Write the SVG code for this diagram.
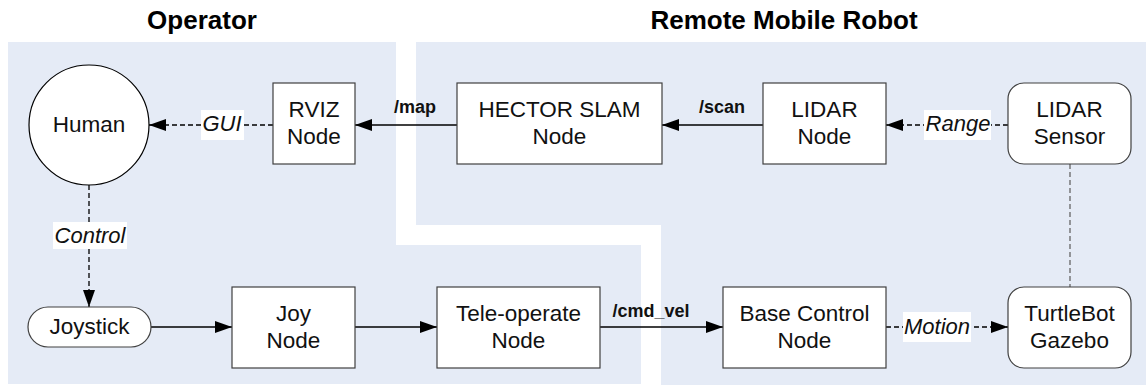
<svg xmlns="http://www.w3.org/2000/svg" width="1146" height="385" viewBox="0 0 1146 385">
<style>
.region{fill:#E5EBF6;stroke:none}
.title{font-family:"Liberation Sans",Arial,sans-serif;font-size:26px;font-weight:bold;fill:#000;text-anchor:middle}
.box{fill:#fff;stroke:#404040;stroke-width:1.2}
.nt{font-family:"Liberation Sans",Arial,sans-serif;font-size:22.5px;fill:#111;text-anchor:middle}
.lt{font-family:"Liberation Sans",Arial,sans-serif;font-size:22px;font-style:italic;fill:#111;text-anchor:middle}
.bt{font-family:"Liberation Sans",Arial,sans-serif;font-size:18px;font-weight:bold;fill:#111;text-anchor:middle}
.solid{stroke:#000;stroke-width:1.3;fill:none}
.dash{stroke:#000;stroke-width:1.3;fill:none;stroke-dasharray:5,3}
.gdash{stroke:#666;stroke-width:1.3;fill:none;stroke-dasharray:5,3}
.lbg{fill:#fff}
</style>
<defs>
<marker id="arr" markerUnits="userSpaceOnUse" markerWidth="18" markerHeight="13" refX="17" refY="6" orient="auto">
<path d="M0,0 L17,6 L0,12 z" fill="#000"/>
</marker>
</defs>
<g id="regions">
<path class="region" d="M8,42 H396 V245 H641 V384 H8 Z"/>
<path class="region" d="M416,42 H1146 V385 H661 V225 H416 Z"/>
</g>
<g id="titles">
<text class="title" x="202" y="29">Operator</text>
<text class="title" x="784" y="29">Remote Mobile Robot</text>
</g>
<g id="connectors">
<line class="solid" x1="457" y1="125" x2="355" y2="125" marker-end="url(#arr)"/>
<text class="bt" x="415" y="113">/map</text>
<line class="solid" x1="763" y1="125" x2="662" y2="125" marker-end="url(#arr)"/>
<text class="bt" x="722" y="113">/scan</text>
<line class="dash" x1="1008" y1="125" x2="886" y2="125" marker-end="url(#arr)"/>
<rect class="lbg" x="924" y="110" width="67" height="30"/>
<text class="lt" x="958" y="131">Range</text>
<line class="dash" x1="273" y1="125" x2="149" y2="125" marker-end="url(#arr)"/>
<rect class="lbg" x="201" y="110" width="43" height="30"/>
<text class="lt" x="222" y="131">GUI</text>
<line class="dash" x1="89" y1="185" x2="89" y2="307" marker-end="url(#arr)"/>
<rect class="lbg" x="53" y="222" width="74" height="27"/>
<text class="lt" x="90" y="243">Control</text>
<line class="solid" x1="151" y1="327" x2="232" y2="327" marker-end="url(#arr)"/>
<line class="solid" x1="355" y1="327" x2="437" y2="327" marker-end="url(#arr)"/>
<line class="solid" x1="600" y1="327" x2="723" y2="327" marker-end="url(#arr)"/>
<text class="bt" x="651" y="317">/cmd_vel</text>
<line class="dash" x1="886" y1="327" x2="1008" y2="327" marker-end="url(#arr)"/>
<rect class="lbg" x="903" y="312" width="68" height="30"/>
<text class="lt" x="937" y="334">Motion</text>
<line class="gdash" x1="1070" y1="164" x2="1070" y2="287"/>
</g>
<g id="human">
<circle cx="89" cy="125" r="60" fill="#fff" stroke="#000" stroke-width="1.2"/>
<text class="nt" x="89" y="132">Human</text>
</g>
<g id="rviz">
<rect class="box" x="273" y="83" width="82" height="81"/>
<text class="nt" x="314" y="117">RVIZ</text>
<text class="nt" x="314" y="144">Node</text>
</g>
<g id="hector">
<rect class="box" x="457" y="83" width="205" height="81"/>
<text class="nt" x="559.5" y="117">HECTOR SLAM</text>
<text class="nt" x="559.5" y="144">Node</text>
</g>
<g id="lidar-node">
<rect class="box" x="763" y="83" width="123" height="81"/>
<text class="nt" x="824.5" y="117">LIDAR</text>
<text class="nt" x="824.5" y="144">Node</text>
</g>
<g id="lidar-sensor">
<rect class="box" x="1008" y="83" width="123" height="81" rx="16" ry="16" stroke="#000"/>
<text class="nt" x="1069.5" y="117">LIDAR</text>
<text class="nt" x="1069.5" y="144">Sensor</text>
</g>
<g id="joystick">
<rect class="box" x="28" y="307" width="123" height="40" rx="20" ry="20" stroke="#000"/>
<text class="nt" x="89.5" y="334">Joystick</text>
</g>
<g id="joy">
<rect class="box" x="232" y="287" width="123" height="81"/>
<text class="nt" x="293.5" y="321">Joy</text>
<text class="nt" x="293.5" y="348">Node</text>
</g>
<g id="teleop">
<rect class="box" x="437" y="287" width="163" height="81"/>
<text class="nt" x="518.5" y="321">Tele-operate</text>
<text class="nt" x="518.5" y="348">Node</text>
</g>
<g id="base-control">
<rect class="box" x="723" y="287" width="163" height="81"/>
<text class="nt" x="804.5" y="321">Base Control</text>
<text class="nt" x="804.5" y="348">Node</text>
</g>
<g id="turtlebot">
<rect class="box" x="1008" y="287" width="123" height="81" rx="16" ry="16" stroke="#000"/>
<text class="nt" x="1069.5" y="321">TurtleBot</text>
<text class="nt" x="1069.5" y="348">Gazebo</text>
</g>
</svg>
